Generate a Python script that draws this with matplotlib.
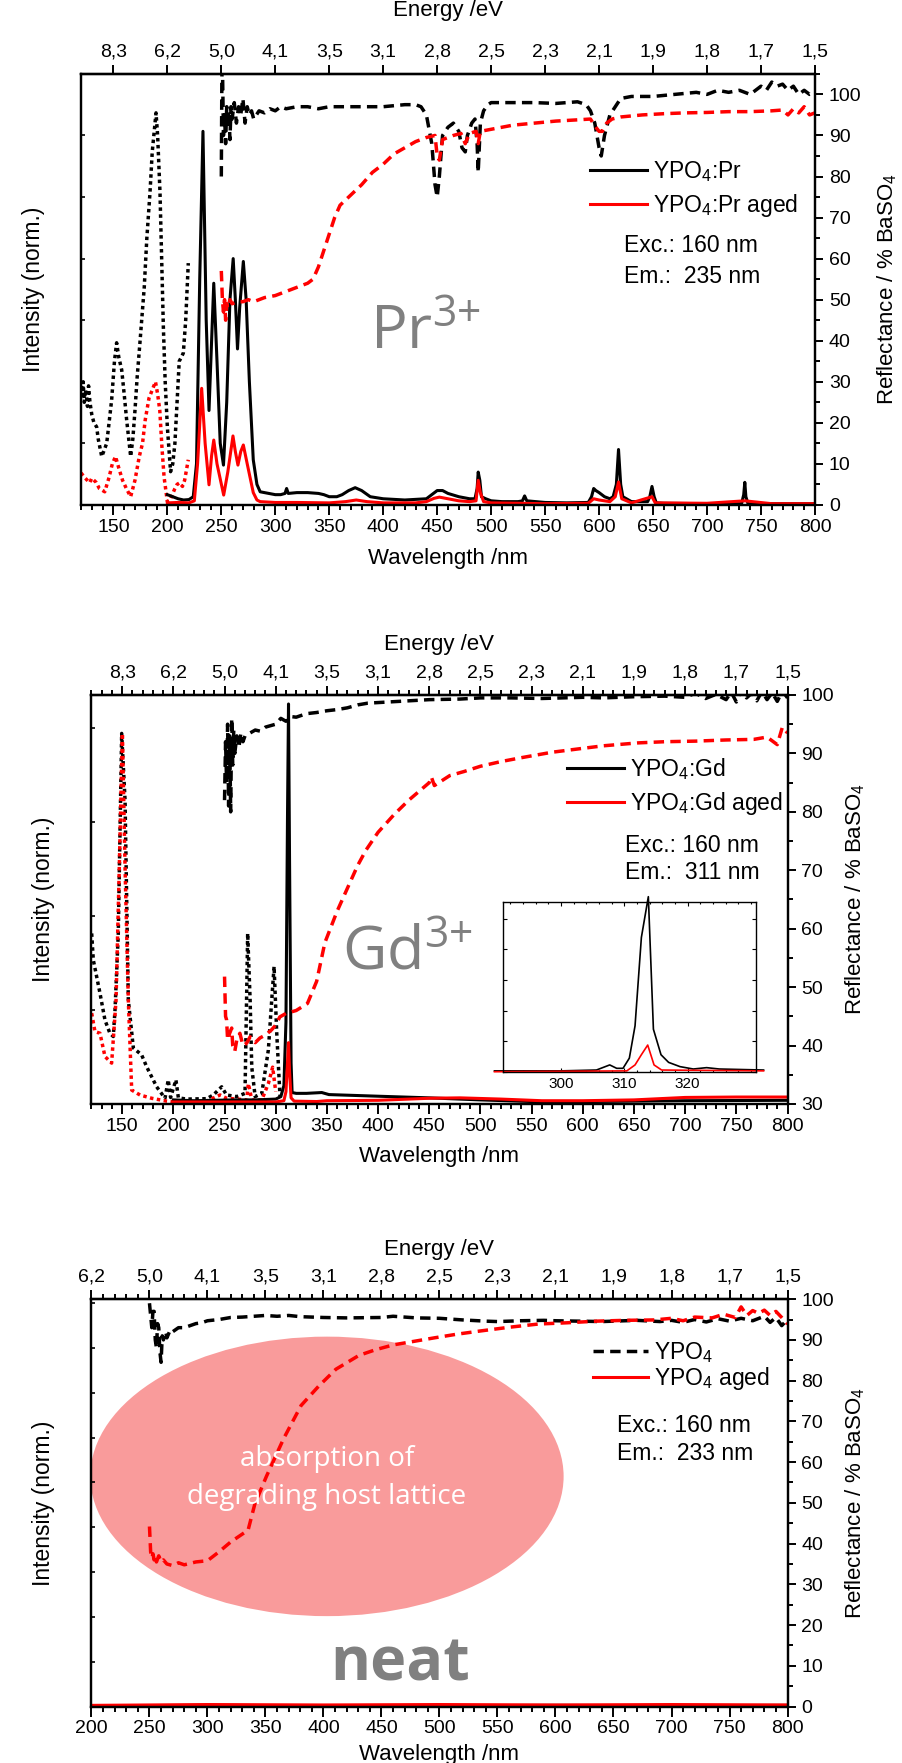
import matplotlib
matplotlib.use('Agg')
import matplotlib.pyplot as plt
from matplotlib.patches import Ellipse
from matplotlib.ticker import MultipleLocator

plt.rcParams['font.family'] = ['Liberation Sans', 'DejaVu Sans']
plt.rcParams['mathtext.default'] = 'regular'

# ---------------- data ----------------
wl_ticks_a = [150, 200, 250, 300, 350, 400, 450, 500, 550, 600, 650, 700, 750, 800]
ev_labels_a = ['8,3', '6,2', '5,0', '4,1', '3,5', '3,1', '2,8', '2,5', '2,3', '2,1', '1,9', '1,8', '1,7', '1,5']
wl_ticks_c = [200, 250, 300, 350, 400, 450, 500, 550, 600, 650, 700, 750, 800]
ev_labels_c = ['6,2', '5,0', '4,1', '3,5', '3,1', '2,8', '2,5', '2,3', '2,1', '1,9', '1,8', '1,7', '1,5']

# Pr panel
pr_exc_wl = [120, 121, 122, 123, 124, 125, 126, 127, 128.3, 130, 132, 134.5, 136, 139.2, 141, 143.8, 146, 148.4,
             151, 153, 155, 157.7, 160, 162.3, 166, 168, 170, 172, 174.6, 178.6, 181, 183.9, 186, 189.5, 191,
             193.2, 196.3, 198, 200, 203, 205, 207, 209, 211, 213, 214.8, 217, 219.4]
pr_exc = [29, 26, 30, 25, 28, 27, 24, 29, 25, 22, 20, 19, 16, 11.8, 13, 15, 20, 25.6,
          35, 39.5, 36, 32.9, 27, 20.7, 11.8, 16, 23, 31, 39.5, 53, 65, 76, 86, 95.5, 90,
          76, 43.4, 30, 19, 8.1, 10, 15, 25, 35, 36, 37, 45, 58.9]
pr_aged_exc_wl = [120, 124, 128, 130, 132, 134, 137, 142, 146, 149, 152, 155, 158.5, 162, 166, 170, 174, 177,
                  179.5, 183, 186, 189, 191, 193, 195, 197, 200, 203, 207, 209, 211.5, 214, 216, 219.4]
pr_aged_exc = [7.8, 6.5, 5.4, 6.5, 6, 5.5, 4, 3.2, 6.7, 10, 11.8, 9, 6, 4, 2, 6, 11.8, 15,
               20.7, 26, 28, 30, 27, 23, 14, 6.7, 0.8, 1.5, 4, 5, 5.4, 4.5, 6, 11]
pr_em_wl = [200, 205, 210, 215, 220, 224, 227, 230, 233, 236, 238.6, 241, 243, 246, 249, 252, 255, 258, 261, 263,
            265, 267, 270.4, 273, 276, 279.6, 283, 286, 290, 300, 305, 309, 310.5, 312, 320, 330, 340, 345, 350,
            357, 362, 368, 374, 380, 388, 400, 420, 440, 445, 450, 455, 460, 470, 480, 485, 487, 488, 489.5, 491,
            495, 500, 510, 525, 529, 531, 533, 550, 570, 590, 593, 595, 597, 600, 605, 610, 613, 616, 618, 620,
            622, 630, 645, 647, 649, 651, 653, 660, 700, 732, 734, 735, 736, 738, 800]
pr_em = [2.5, 2, 1.5, 1.2, 1.3, 2, 10, 55, 91, 45, 23, 40, 54, 35, 15, 9.7, 25, 50, 60, 50,
         38, 48, 59.3, 50, 30, 11, 5, 3.2, 3, 2.5, 2.5, 2.8, 4, 2.8, 3, 3, 2.8, 2.5, 2,
         2, 2.5, 3.5, 4.2, 3.5, 2, 1.5, 1.2, 1.5, 2.5, 3.5, 3.5, 2.8, 2, 1.5, 1.5, 4, 8, 6, 2,
         1.5, 1, 0.8, 0.8, 1, 2.2, 1, 0.6, 0.5, 0.6, 2, 4, 3.5, 3, 2, 1.5, 2, 5, 13.5, 5,
         2, 0.8, 0.8, 2, 4.5, 2, 0.5, 0.4, 0.3, 0.3, 2.5, 5.5, 2, 0.3, 0.3]
pr_aged_em_wl = [200, 210, 220, 225, 228, 231.8, 235, 238.6, 241, 243, 246, 252.2, 256, 260.8, 263, 265.4, 268,
                 270.4, 274, 279.6, 283, 286, 300, 320, 350, 365, 375, 385, 400, 430, 440, 447, 452, 460, 470,
                 480, 486, 488, 490, 493, 500, 550, 590, 595, 600, 610, 615, 618, 621, 630, 649, 652, 700, 735,
                 760, 800]
pr_aged_em = [0.5, 0.6, 0.5, 1, 10, 28.4, 15, 4.9, 12, 15.8, 10, 2.4, 8, 16.8, 13, 9.7, 13,
              14.6, 10, 3, 1.2, 0.8, 0.6, 0.6, 0.5, 0.8, 1.2, 0.8, 0.5, 0.5, 0.8, 1.6, 1.9, 1.5, 1,
              0.8, 1, 6, 3, 0.8, 0.5, 0.3, 0.4, 1.5, 1.2, 0.8, 2, 5.6, 1.5, 0.5, 2, 0.5, 0.4, 1,
              0.3, 0.3]
pr_refl_wl = [250, 250.5, 251, 252, 253, 254, 255, 256, 257, 258, 259, 260, 262, 264, 266, 268, 270, 272, 274,
              276, 278, 280, 285, 290, 295, 300, 305, 310, 320, 330, 340, 350, 360, 380, 400, 420, 430, 435,
              440, 445, 448, 450, 452, 455, 460, 465, 470, 473, 476, 478, 482, 485, 487, 488, 490, 493, 497,
              500, 520, 540, 560, 580, 588, 592, 596, 600, 602, 605, 610, 615, 620, 630, 650, 670, 690, 700,
              710, 720, 730, 740, 750, 755, 760, 765, 770, 775, 780, 785, 790, 795, 800]
pr_refl = [80, 104, 108, 90, 95, 88, 97, 92, 96, 89, 97, 94, 98, 93, 97, 95, 99, 93, 97,
           95, 96, 94, 96, 95.5, 96.5, 96, 97, 96.5, 97, 97, 96.5, 97, 97, 97, 97, 97.5, 97.5, 97,
           95, 88, 78, 75, 80, 90, 92, 93, 91, 87, 86, 90, 93, 94, 88, 81, 93, 96, 97.5,
           98, 98, 98, 97.8, 98.2, 97.5, 96, 93, 87, 85, 90, 95, 97, 99, 99.5, 99.5, 100, 100.5, 100,
           101, 100.5, 101, 100, 102, 101, 103, 102, 102.5, 101, 102, 100, 101, 100, 100.5]
pr_aged_refl_wl = [250, 251, 252, 253, 254, 255, 256, 258, 260, 265, 270, 275, 280, 290, 300, 310, 320, 330, 335,
                   340, 345, 350, 355, 360, 370, 380, 390, 400, 410, 420, 430, 440, 448, 450, 452, 455, 465,
                   472, 476, 480, 486, 488, 490, 500, 520, 540, 560, 580, 592, 597, 600, 603, 607, 612, 620,
                   640, 660, 680, 700, 720, 740, 760, 770, 775, 780, 785, 790, 795, 800]
pr_aged_refl = [57, 50, 47, 50, 45, 49, 48, 50, 49, 49.5, 49.5, 50, 49.5, 50.5, 51, 52, 53, 54, 55,
                58, 62, 66, 70, 73, 75.5, 78, 81, 83, 85.5, 87, 88.5, 89.5, 90, 85, 84, 89, 90,
                90.5, 88, 90.5, 91, 88, 91, 91.5, 92.5, 93, 93.5, 93.8, 94, 92, 91, 91, 93, 94, 94.5,
                95, 95.3, 95.5, 95.6, 95.8, 95.8, 96, 96.2, 95, 96.5, 95.5, 97, 95, 95.5]

# Gd panel
gd_exc_wl = [120.2, 121.8, 128.3, 133.2, 138, 141.3, 143, 146.2, 149.5, 152.8, 156, 160.9, 169, 173.9, 183.7,
             191.8, 195, 197.3, 202.5, 204.9, 213, 232.6, 239, 247.2, 252, 261.8, 270, 272.6, 275, 276.6,
             279.9, 286.4, 292.8, 296.1, 298.4, 301, 304.2]
gd_exc = [41.7, 35.2, 27.1, 20.5, 17.3, 16.5, 23, 41.7, 90.6, 74.3, 25.4, 13.7, 12, 9.1, 4.2,
          1.4, 5.9, 1.6, 5.9, 1.5, 1.2, 1.3, 2.2, 4.2, 2.2, 1.8, 2.6, 41.7, 25.4, 9,
          1.8, 2.6, 13.2, 25.4, 33.6, 17.3, 1.8]
gd_aged_exc_wl = [120.2, 123.4, 128.3, 133.2, 139.7, 144, 147.2, 150.2, 152.8, 156, 159.3, 167.4, 178.8, 193.5,
                  206.5, 232.6, 245.6, 252, 271.6, 273.3, 276.6, 286.4, 292.8, 297, 300]
gd_aged_exc = [22.2, 17.7, 17.3, 11.6, 10, 25.4, 58, 90.6, 58, 25.4, 3.4, 2.2, 1.4, 0.7,
               0.3, 0.7, 2.2, 1.4, 1, 5, 1, 1, 5, 9, 3]
gd_em_wl = [200, 220, 240, 260, 280, 300, 305, 308, 310, 311.5, 312.5, 313.5, 315, 316, 320, 330, 345, 352,
            400, 450, 500, 550, 600, 700, 800]
gd_em = [1, 0.8, 0.9, 1, 1, 1.2, 1.8, 4.5, 20, 70, 97.8, 60, 10, 2.8, 2.6, 2.6, 2.8, 2.3,
         1.9, 1.5, 1, 0.6, 0.6, 0.8, 0.9]
gd_aged_em_wl = [200, 250, 300, 308, 310, 311.5, 312.5, 313.5, 315, 318, 340, 350, 400, 450, 480, 520, 560,
                 600, 650, 700, 750, 800]
gd_aged_em = [0.5, 0.5, 0.5, 0.8, 3, 10, 15, 8, 1.5, 0.7, 0.6, 0.8, 0.9, 1.4, 1.5, 1.2, 0.8,
              0.8, 1, 1.6, 1.7, 1.7]
gd_refl_wl = [250, 251, 252, 253, 254, 255, 256, 257, 258, 259, 260, 262, 264, 266, 268, 270, 275, 280, 285,
              290, 300, 305, 310, 315, 320, 330, 340, 350, 360, 370, 380, 390, 400, 420, 450, 480, 500, 530,
              560, 600, 620, 650, 680, 700, 710, 720, 730, 740, 745, 750, 755, 760, 765, 770, 775, 780, 785,
              790, 795, 800]
gd_refl = [82, 92, 85, 95, 81, 93, 80, 96, 88, 94, 90, 93, 91, 93.5, 92, 93, 93.5, 94, 93.8,
           94.5, 95, 96, 95.5, 96.3, 96.2, 96.8, 97, 97.3, 97.5, 97.8, 98.3, 98.6, 98.7, 98.9, 99.2, 99.3,
           99.5, 99.5, 99.4, 99.6, 99.5, 99.7, 99.8, 99.6, 100.3, 99.4, 100.1, 99.2, 100.5, 98.8, 101, 99.5,
           100.3, 99, 100.6, 99.2, 100.4, 98.9, 100.7, 99.5]
gd_aged_refl_wl = [250, 251, 252, 253, 255, 257, 258, 260, 262, 265, 268, 271.6, 275, 280, 284.6, 290, 296, 300,
                   304, 310, 320, 331, 340, 348, 360, 371, 380, 388, 400, 416, 430, 450, 452, 455, 470, 484,
                   500, 520, 541, 570, 597, 620, 654, 680, 710, 740, 767, 780, 790, 795, 800]
gd_aged_refl = [51.8, 45, 44.4, 41, 42.1, 43, 40, 39, 41, 42.1, 40, 40.4, 41.5, 40.5, 41.3, 41.8, 42.7, 43.5,
                44.9, 45.5, 46, 47.2, 51, 57.6, 63, 67.3, 70.8, 73.4, 76.5, 79.6, 82, 85, 86, 84.5, 86.2, 86.9,
                87.8, 88.6, 89.3, 90.2, 90.8, 91.3, 91.8, 92, 92.1, 92.3, 92.4, 92.8, 91.5, 94.5, 93.5]

# Gd inset (zoom of the emission peak)
ins_wl = [289.5, 300, 305.6, 307.7, 308.8, 309.8, 310.8, 311.7, 312.7, 313.8, 314.6, 315.8, 317, 318.8, 320.9,
          323, 325, 332]
ins_em = [0.005, 0.005, 0.01, 0.04, 0.02, 0.02, 0.08, 0.27, 0.79, 1.03, 0.25, 0.1, 0.055, 0.03, 0.016,
          0.024, 0.016, 0.01]
ins_aged_wl = [289.5, 310.4, 311.7, 312.7, 313.7, 314.7, 315.9, 332]
ins_aged_em = [0.0, 0.005, 0.04, 0.1, 0.157, 0.04, 0.01, 0.005]

# neat panel
neat_em_wl = [200, 300, 400, 500, 600, 700, 800]
neat_em = [0.2, 0.3, 0.2, 0.2, 0.3, 0.2, 0.3]
neat_aged_em = [0.3, 0.5, 0.4, 0.5, 0.4, 0.5, 0.4]
neat_refl_wl = [250, 251, 252, 253, 254, 255, 256, 257, 258, 259, 260, 261, 262, 264, 265, 268, 270, 275, 280,
                285, 290, 295, 300, 310, 320, 330, 340, 350, 360, 370, 380, 400, 420, 450, 460, 480, 500, 520,
                540, 550, 570, 590, 600, 620, 640, 650, 670, 690, 700, 710, 720, 730, 740, 750, 760, 770, 780,
                785, 790, 795, 800]
neat_refl = [99, 96, 93, 97, 97, 90, 88, 94, 93, 87, 84.5, 91, 90, 92, 90.5, 92.5, 92, 93, 93,
             93.5, 94, 94.2, 94.7, 95, 95.5, 95.6, 95.8, 96, 95.8, 96, 95.7, 95.5, 95.4, 95.5, 95.8, 95.4,
             95.3, 94.9, 94.6, 94.5, 94.7, 94.8, 94.7, 94.6, 94.5, 94.6, 94.8, 94.5, 94.8, 94.3, 95, 94.4,
             95.2, 94.6, 95.3, 94.7, 95.8, 94.3, 95.5, 93.5, 95]
neat_aged_refl_wl = [250, 251, 252, 253, 254, 255, 256, 258, 260, 262, 265, 270, 275, 280, 290, 300, 310, 320,
                     335, 340.8, 350.8, 365.7, 380.7, 395.7, 410.7, 430.6, 445, 460.6, 475, 495.5, 515, 535.5,
                     560, 585.4, 610, 635.3, 660, 685.2, 700, 710, 720, 735, 745, 755, 760, 765, 770, 775, 780,
                     785, 790, 795, 800]
neat_aged_refl = [44.2, 38, 36.5, 37.5, 36, 36.8, 35.5, 37, 35.5, 36, 35, 34.6, 35.3, 34.8, 35.5, 35.8, 38,
                  40.4, 43.3, 49.7, 56.5, 65.8, 73.9, 78.6, 82.8, 86.2, 87.6, 88.8, 89.5, 90.5, 91.4, 92.2,
                  93.1, 93.9, 94.2, 94.6, 94.8, 94.9, 95.3, 94.7, 95.6, 95.4, 96.3, 95.5, 98.1, 96, 97.2,
                  96.5, 97.3, 96, 97, 95.5, 93.9]

# ---------------- figure ----------------
fig = plt.figure(figsize=(9.03, 17.63), dpi=100)
GREY = '#808080'
DOT = (0, (1, 1))
DASH = (0, (3, 1.8))
LW = 2.2
LWD = 2.5


def panel(rect, xlim, xticks, evlabels, rlim, top_minor, epad, xpad, lpad, rpad):
    ax = fig.add_axes(rect)
    axr = ax.twinx()
    ax.set_xlim(*xlim)
    ax.set_xticks(xticks)
    ax.xaxis.set_minor_locator(MultipleLocator(10))
    ax.tick_params(axis='x', which='major', direction='out', length=7, width=1.4, labelsize=14, pad=3)
    ax.tick_params(axis='x', which='minor', direction='out', length=3.6, width=1.4)
    ax.tick_params(axis='y', which='major', direction='in', length=3, width=1.2, labelleft=False)
    ax.set_xlabel('Wavelength /nm', fontsize=16, labelpad=xpad)
    ax.set_ylabel('Intensity (norm.)', fontsize=16.5, labelpad=lpad)
    axr.set_ylim(*rlim)
    axr.yaxis.set_major_locator(MultipleLocator(10))
    axr.yaxis.set_minor_locator(MultipleLocator(5))
    axr.tick_params(axis='y', which='major', direction='out', length=6, width=1.4, labelsize=14, pad=4)
    axr.tick_params(axis='y', which='minor', direction='out', length=3.6, width=1.4)
    axr.set_ylabel('Reflectance / % BaSO$_4$', fontsize=16, labelpad=rpad)
    sec = ax.secondary_xaxis('top')
    sec.set_xticks(xticks, labels=evlabels)
    if top_minor:
        sec.xaxis.set_minor_locator(MultipleLocator(10))
        sec.tick_params(which='minor', direction='out', length=3.6, width=1.4)
    sec.tick_params(which='major', direction='out', length=6.5, width=1.4, labelsize=14, pad=3)
    sec.set_xlabel('Energy /eV', fontsize=16, labelpad=epad)
    for a in (ax, axr):
        for s in a.spines.values():
            s.set_linewidth(1.6)
    for s in sec.spines.values():
        s.set_linewidth(1.6)
    return ax, axr


def notes(ax, x, y1, y2, em):
    ax.text(x, y1, 'Exc.: 160 nm', transform=ax.transAxes, fontsize=16.5, va='center', ha='left', zorder=10)
    ax.text(x, y2, 'Em.:  %s nm' % em, transform=ax.transAxes, fontsize=16.5, va='center', ha='left', zorder=10)


# ---- panel 1: Pr ----
ax1, ax1r = panel([0.0897, 0.7136, 0.8128, 0.2445], (120, 800), wl_ticks_a, ev_labels_a, (0, 105),
                  False, 20, 9, 26, 10)
ax1.set_ylim(0, 105)
ax1.yaxis.set_major_locator(MultipleLocator(15))
ax1.plot(pr_exc_wl, pr_exc, color='black', lw=2.5, ls=DOT)
ax1.plot(pr_aged_exc_wl, pr_aged_exc, color='red', lw=2.5, ls=DOT)
l1, = ax1.plot(pr_em_wl, pr_em, color='black', lw=LW, label='YPO$_4$:Pr')
l2, = ax1.plot(pr_aged_em_wl, pr_aged_em, color='red', lw=LW, label='YPO$_4$:Pr aged')
ax1r.plot(pr_refl_wl, pr_refl, color='black', lw=LWD, ls=DASH)
ax1r.plot(pr_aged_refl_wl, pr_aged_refl, color='red', lw=LWD, ls=DASH)
ax1r.legend(handles=[l1, l2], loc='center left', bbox_to_anchor=(0.693, 0.733), frameon=False,
            fontsize=16.5, handlelength=2.5, handletextpad=0.25, labelspacing=0.35, borderpad=0,
            borderaxespad=0)
notes(ax1r, 0.74, 0.601, 0.531, '235')
ax1r.text(0.394, 0.397, 'Pr$^{3{+}}$', transform=ax1r.transAxes, fontsize=44, color=GREY,
          family='Open Sans', ha='left', va='center')

# ---- panel 2: Gd ----
ax2, ax2r = panel([0.1013, 0.3738, 0.7708, 0.2320], (120, 800), wl_ticks_a, ev_labels_a, (30, 100),
                  True, 11, 8, 26, 7)
ax2.set_ylim(0, 100)
ax2.yaxis.set_major_locator(MultipleLocator(23))
ax2.plot(gd_exc_wl, gd_exc, color='black', lw=2.5, ls=DOT)
ax2.plot(gd_aged_exc_wl, gd_aged_exc, color='red', lw=2.5, ls=DOT)
g1, = ax2.plot(gd_em_wl, gd_em, color='black', lw=LW, label='YPO$_4$:Gd')
g2, = ax2.plot(gd_aged_em_wl, gd_aged_em, color='red', lw=LW, label='YPO$_4$:Gd aged')
ax2r.plot(gd_refl_wl, gd_refl, color='black', lw=LWD, ls=DASH)
ax2r.plot(gd_aged_refl_wl, gd_aged_refl, color='red', lw=LWD, ls=DASH)
ax2r.legend(handles=[g1, g2], loc='center left', bbox_to_anchor=(0.683, 0.777), frameon=False,
            fontsize=16.5, handlelength=2.5, handletextpad=0.25, labelspacing=0.35, borderpad=0,
            borderaxespad=0)
notes(ax2r, 0.7665, 0.631, 0.567, '311')
ax2r.text(0.36, 0.367, 'Gd$^{3{+}}$', transform=ax2r.transAxes, fontsize=44, color=GREY,
          family='Open Sans', ha='left', va='center')

axi = fig.add_axes([0.5567, 0.3921, 0.2805, 0.0964])
axi.set_xlim(290.8, 330.8)
axi.set_ylim(0, 1)
axi.plot(ins_wl, ins_em, color='black', lw=1.2, clip_on=False)
axi.plot(ins_aged_wl, ins_aged_em, color='red', lw=1.2, clip_on=False)
axi.set_xticks([300, 310, 320])
axi.xaxis.set_minor_locator(MultipleLocator(2))
axi.yaxis.set_major_locator(MultipleLocator(0.18))
axi.tick_params(which='both', direction='in', top=True, right=True, labelleft=False, width=0.8)
axi.tick_params(which='major', length=3, labelsize=11, pad=4)
axi.tick_params(which='minor', length=1.5)
for s in axi.spines.values():
    s.set_linewidth(1.0)

# ---- panel 3: neat ----
ax3, ax3r = panel([0.1013, 0.0320, 0.7708, 0.2311], (200, 800), wl_ticks_c, ev_labels_c, (0, 100),
                  True, 10, 5, 26, 7)
ax3.set_ylim(0, 100)
ax3.yaxis.set_major_locator(MultipleLocator(11))
ax3.add_patch(Ellipse((403, 56.5), 408, 68.6, facecolor='#f99b9b', edgecolor='none', zorder=1))
ax3.plot(neat_em_wl, neat_em, color='black', lw=LW)
n2, = ax3.plot(neat_em_wl, neat_aged_em, color='red', lw=LW, label='YPO$_4$ aged')
n1, = ax3r.plot(neat_refl_wl, neat_refl, color='black', lw=LWD, ls=DASH, label='YPO$_4$')
ax3r.plot(neat_aged_refl_wl, neat_aged_refl, color='red', lw=LWD, ls=DASH)
ax3r.legend(handles=[n1, n2], loc='center left', bbox_to_anchor=(0.7206, 0.8356), frameon=False,
            fontsize=16.5, handlelength=2.4, handletextpad=0.25, labelspacing=0.0, borderpad=0,
            borderaxespad=0)
notes(ax3r, 0.7555, 0.691, 0.621, '233')
ax3r.text(0.338, 0.607, 'absorption of', transform=ax3r.transAxes, fontsize=20, color='white',
          family='Open Sans', ha='center', va='center', zorder=10)
ax3r.text(0.338, 0.514, 'degrading host lattice', transform=ax3r.transAxes, fontsize=20, color='white',
          family='Open Sans', ha='center', va='center', zorder=10)
ax3r.text(0.343, 0.064, 'neat', transform=ax3r.transAxes, fontsize=44, color=GREY, weight='bold',
          family='Open Sans', ha='left', va='baseline')

fig.savefig('out.png', dpi=100)
